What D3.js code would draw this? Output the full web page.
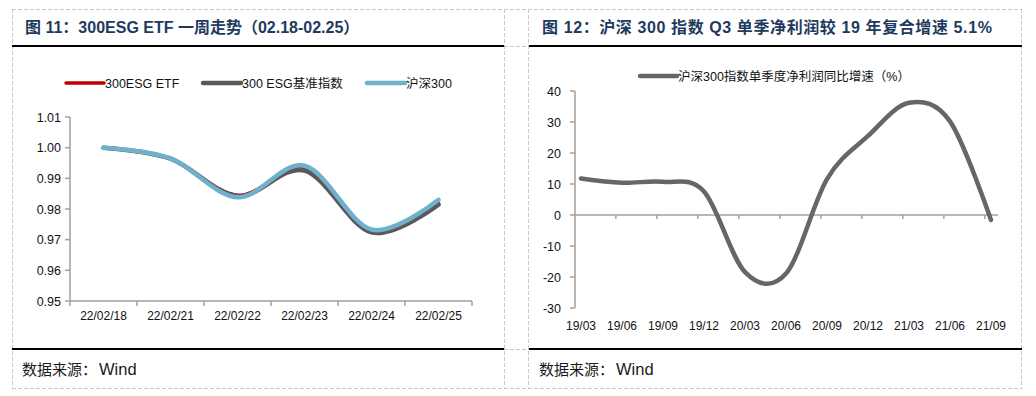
<!DOCTYPE html>
<html>
<head>
<meta charset="utf-8">
<script src="https://cdn.jsdelivr.net/npm/d3@7"></script>
<style>
  body { margin: 0; background: #fff; }
  svg { display: block; }
  text { font-family: "Liberation Sans", Arial, "Noto Sans CJK SC", sans-serif; }
</style>
</head>
<body>
<div id="chart"></div>
<script>
// left chart data
const dates = ["22/02/18", "22/02/21", "22/02/22", "22/02/23", "22/02/24", "22/02/25"]
const etf = [1.000, 0.9964, 0.9845, 0.9930, 0.9728, 0.9818]
const benchmark = [1.000, 0.9964, 0.9842, 0.9925, 0.9724, 0.9814]
const hs300 = [1.000, 0.9965, 0.9838, 0.9941, 0.9733, 0.9830]
const leftNames = ["300ESG ETF", "300 ESG基准指数", "沪深300"]

// right chart data
const quarters = ["19/03", "19/06", "19/09", "19/12", "20/03", "20/06", "20/09", "20/12", "21/03", "21/06", "21/09"]
const profitGrowth = [11.8, 10.4, 10.7, 7.6, -18.4, -18.9, 11.6, 25.5, 36.2, 30.2, -1.6]
const rightName = "沪深300指数单季度净利润同比增速（%）"

const titles = ["图 11：300ESG ETF 一周走势（02.18-02.25）", "图 12：沪深 300 指数 Q3 单季净利润较 19 年复合增速 5.1%"]
const source = "数据来源："

var width = 1036
var height = 396
const axisColor = "#a0a0a0"
const dashColor = "#c8c8c8"

const svg = d3.select("#chart").append("svg")
    .attr("width", width)
    .attr("height", height)

// ----- table frame -----
const frame = svg.append("g")
const dashed = (x1, y1, x2, y2) => frame.append("line")
    .attr("x1", x1).attr("y1", y1).attr("x2", x2).attr("y2", y2)
    .attr("stroke", dashColor).attr("stroke-width", 1)
    .attr("stroke-dasharray", "4,2")
dashed(12, 9.5, 1022, 9.5)
dashed(12, 388.5, 1022, 388.5)
dashed(504, 46.5, 529, 46.5)
dashed(504, 349.5, 529, 349.5)
;[12.5, 504.5, 528.5, 1021.5].forEach(x => dashed(x, 9, x, 389))

const cells = [[12, 504], [529, 1022]]
cells.forEach((c, i) => {
    frame.append("line").attr("x1", c[0]).attr("x2", c[1]).attr("y1", 46).attr("y2", 46)
        .attr("stroke", "#000").attr("stroke-width", 2)
    frame.append("line").attr("x1", c[0]).attr("x2", c[1]).attr("y1", 349).attr("y2", 349)
        .attr("stroke", "#000").attr("stroke-width", 2)
    frame.append("text")
        .text(titles[i])
        .attr("x", c[0] + 13)
        .attr("y", 33)
        .attr("font-size", "16px")
        .attr("font-weight", "bold")
        .attr("letter-spacing", i === 1 ? "0.6px" : "0px")
        .attr("fill", "#1f3a60")
    const src = frame.append("text")
        .attr("x", c[0] + 10)
        .attr("y", 375)
        .attr("fill", "#1a1a1a")
    src.append("tspan").text(source)
        .attr("font-size", "15px")
        .attr("font-family", "'Noto Sans CJK SC', sans-serif")
    src.append("tspan").text("Wind")
        .attr("dx", 2)
        .attr("font-size", "16.5px")
})

// ----- left chart -----
const gL = svg.append("g")
const xL = d3.scaleBand().domain(dates).range([70, 472])
const yL = d3.scaleLinear().domain([0.95, 1.01]).range([301, 117])

gL.append("line").attr("x1", 70).attr("x2", 70).attr("y1", yL(1.01)).attr("y2", yL(0.95))
    .attr("stroke", axisColor).attr("stroke-width", 1.5)
yL.ticks(6).forEach(t => {
    gL.append("line").attr("x1", 65).attr("x2", 70).attr("y1", yL(t)).attr("y2", yL(t))
        .attr("stroke", axisColor).attr("stroke-width", 1.5)
    gL.append("text").text(d3.format(".2f")(t))
        .attr("x", 61).attr("y", yL(t) + 4.5)
        .attr("text-anchor", "end")
        .attr("font-size", "12.5px")
        .attr("fill", "#111")
})
gL.append("line").attr("x1", 70).attr("x2", 472).attr("y1", yL(0.95)).attr("y2", yL(0.95))
    .attr("stroke", axisColor).attr("stroke-width", 1.5)
dates.map(d => xL(d)).concat([xL.range()[1]]).forEach(x => {
    gL.append("line").attr("x1", x).attr("x2", x).attr("y1", yL(0.95)).attr("y2", yL(0.95) + 5)
        .attr("stroke", axisColor).attr("stroke-width", 1.5)
})
dates.forEach(d => {
    gL.append("text").text(d)
        .attr("x", xL(d) + xL.bandwidth() / 2)
        .attr("y", 319.5)
        .attr("text-anchor", "middle")
        .attr("font-size", "12px")
        .attr("fill", "#111")
})

const leftSeries = [
    { name: leftNames[0], values: etf, color: "#c00000", w: 3.5 },
    { name: leftNames[1], values: benchmark, color: "#595959", w: 4.5 },
    { name: leftNames[2], values: hs300, color: "#6fb0cc", w: 4.5 }
]
const lineL = d3.line()
    .x((v, i) => xL(dates[i]) + xL.bandwidth() / 2)
    .y(v => yL(v))
    .curve(d3.curveCardinal.tension(0))
leftSeries.forEach(s => {
    gL.append("path").attr("d", lineL(s.values))
        .attr("fill", "none")
        .attr("stroke", s.color)
        .attr("stroke-width", s.w)
        .attr("stroke-linecap", "round")
})

// legend
const legX = [66, 203, 367]
leftSeries.forEach((s, i) => {
    gL.append("line").attr("x1", legX[i]).attr("x2", legX[i] + 38).attr("y1", 83).attr("y2", 83)
        .attr("stroke", s.color).attr("stroke-width", s.w).attr("stroke-linecap", "round")
    gL.append("text").text(s.name)
        .attr("x", legX[i] + 39).attr("y", 87.5)
        .attr("font-size", "12.5px")
        .attr("fill", "#111")
})

// ----- right chart -----
const gR = svg.append("g")
const xR = d3.scalePoint().domain(quarters).range([581, 991])
const yR = d3.scaleLinear().domain([-30, 40]).range([308, 91])

gR.append("line").attr("x1", 575).attr("x2", 575).attr("y1", yR(40)).attr("y2", yR(-30))
    .attr("stroke", axisColor).attr("stroke-width", 1.5)
yR.ticks(7).forEach(t => {
    gR.append("line").attr("x1", 570).attr("x2", 575).attr("y1", yR(t)).attr("y2", yR(t))
        .attr("stroke", axisColor).attr("stroke-width", 1.5)
    gR.append("text").text(t)
        .attr("x", 561).attr("y", yR(t) + 4.5)
        .attr("text-anchor", "end")
        .attr("font-size", "12.5px")
        .attr("fill", "#111")
})
gR.append("line").attr("x1", 575).attr("x2", xR.range()[1] + 7).attr("y1", yR(0)).attr("y2", yR(0))
    .attr("stroke", axisColor).attr("stroke-width", 1.5)
quarters.slice(1).forEach(q => {
    const x = xR(q) - xR.step() * 0.15
    gR.append("line").attr("x1", x).attr("x2", x).attr("y1", yR(0)).attr("y2", yR(0) + 4)
        .attr("stroke", axisColor).attr("stroke-width", 1.5)
})
quarters.forEach(q => {
    gR.append("text").text(q)
        .attr("x", xR(q))
        .attr("y", 329.5)
        .attr("text-anchor", "middle")
        .attr("font-size", "12px")
        .attr("fill", "#111")
})

const lineR = d3.line()
    .x((v, i) => xR(quarters[i]))
    .y(v => yR(v))
    .curve(d3.curveCardinal.tension(0))
gR.append("path").attr("d", lineR(profitGrowth))
    .attr("fill", "none")
    .attr("stroke", "#666666")
    .attr("stroke-width", 4.5)
    .attr("stroke-linecap", "round")

gR.append("line").attr("x1", 640).attr("x2", 677).attr("y1", 76).attr("y2", 76)
    .attr("stroke", "#666666").attr("stroke-width", 4.5).attr("stroke-linecap", "round")
gR.append("text").text(rightName)
    .attr("x", 678).attr("y", 80.5)
    .attr("font-size", "12.5px")
    .attr("fill", "#111")
</script>
</body>
</html>
